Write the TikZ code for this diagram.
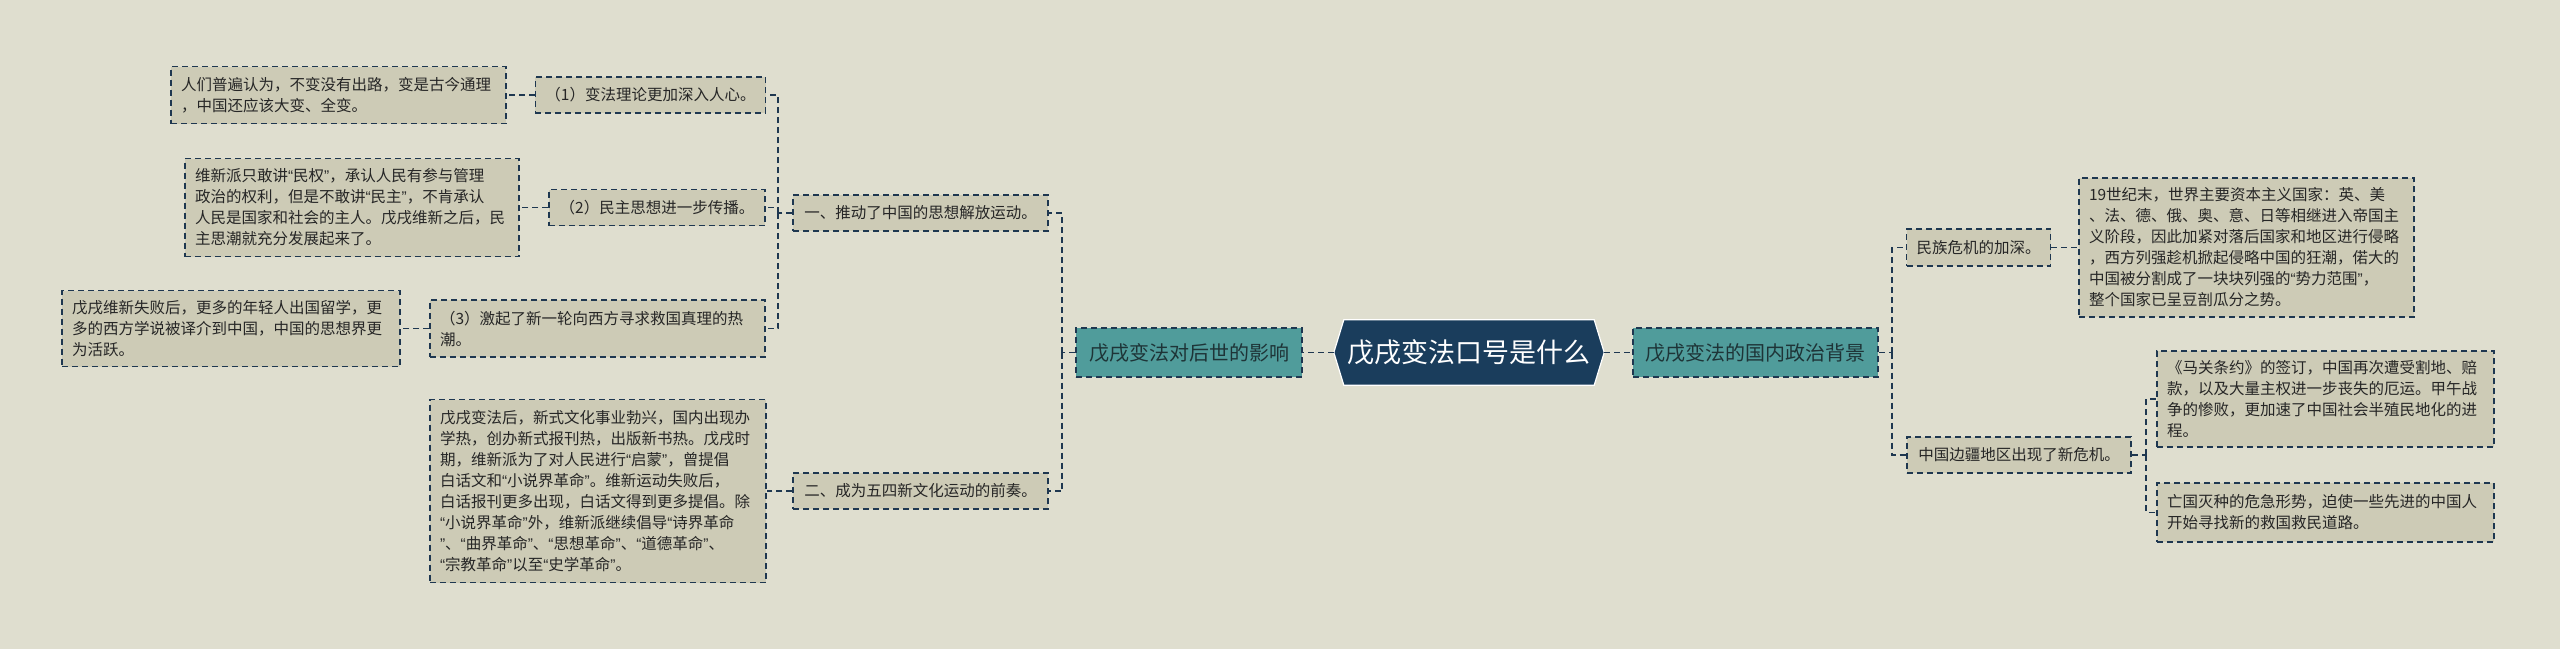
\documentclass[tikz,border=0pt]{standalone}
\usepackage{fontspec}
\setmainfont{Noto Sans CJK SC}
\newfontfamily\latinq{Liberation Sans}
\newcommand\qo{{\latinq “}}
\newcommand\qc{{\latinq ”}}
\usetikzlibrary{calc}
\pgfdeclarelayer{bg}
\pgfsetlayers{bg,main}
\definecolor{bgc}{RGB}{223,222,207}
\definecolor{leaf}{RGB}{205,203,182}
\definecolor{teal2}{RGB}{80,156,155}
\definecolor{navy}{RGB}{26,61,92}
\definecolor{linec}{RGB}{30,55,80}
\definecolor{txt}{RGB}{38,38,38}
\definecolor{tealtxt}{RGB}{30,52,55}
\begin{document}
\begin{tikzpicture}[x=1pt,y=-1pt,
  conn/.style={draw=linec, line width=1.6pt, dash pattern=on 6pt off 4pt},
  box/.style={draw=linec, line width=1.5pt, dash pattern=on 6pt off 4pt, fill=leaf, text=txt,
    font=\fontsize{15.5}{21}\selectfont, inner xsep=10pt, inner ysep=0pt, anchor=center},
  one/.style={box, minimum width=#1, minimum height=36pt},
  multi/.style={box, text width=#1, align=left},
  tealbox/.style={draw=linec, line width=1.5pt, dash pattern=on 6pt off 4pt, fill=teal2, text=tealtxt,
    font=\fontsize{20}{24}\selectfont, minimum height=49pt, inner xsep=6pt, anchor=center}
]
\useasboundingbox (0,0) rectangle (2560,649);
\begin{pgfonlayer}{bg}
\fill[bgc] (0,0) rectangle (2560,649);
\end{pgfonlayer}

% root
\node[minimum width=270pt, minimum height=65pt, text=white, font=\fontsize{27}{32}\selectfont] (root) at (1469,352.5) {戊戌变法口号是什么};
\begin{pgfonlayer}{bg}
\fill[navy, draw=white, line width=1.2pt] (root.west) -- ([xshift=10pt]root.north west) -- ([xshift=-10pt]root.north east) -- (root.east) -- ([xshift=-10pt]root.south east) -- ([xshift=10pt]root.south west) -- cycle;
\end{pgfonlayer}

% level 1
\node[tealbox, minimum width=226pt] (L1) at (1189,352.5) {戊戌变法对后世的影响};
\node[tealbox, minimum width=245pt] (R1) at (1755.5,352.5) {戊戌变法的国内政治背景};

% left level 2
\node[one=255pt] (N1) at (920.5,213) {一、推动了中国的思想解放运动。};
\node[one=255pt] (N2) at (920.5,491) {二、成为五四新文化运动的前奏。};

% left level 3
\node[one=229pt] (P1) at (650.5,95) {（1）变法理论更加深入人心。};
\node[one=216pt] (P2) at (657,207.5) {（2）民主思想进一步传播。};
\node[multi=315pt, minimum height=57pt] (P3) at (597.5,328.5) {（3）激起了新一轮向西方寻求救国真理的热\\潮。};

% left leaves
\node[multi=315pt, minimum height=57pt] (A) at (338.5,95) {人们普遍认为，不变没有出路，变是古今通理\\，中国还应该大变、全变。};
\node[multi=314pt, minimum height=98pt] (B) at (352,207.5) {维新派只敢讲\qo 民权\qc ，承认人民有参与管理\\政治的权利，但是不敢讲\qo 民主\qc ，不肯承认\\人民是国家和社会的主人。戊戌维新之后，民\\主思潮就充分发展起来了。};
\node[multi=318pt, minimum height=76pt] (C) at (231,328.5) {戊戌维新失败后，更多的年轻人出国留学，更\\多的西方学说被译介到中国，中国的思想界更\\为活跃。};
\node[multi=316pt, minimum height=183pt] (D) at (598,491) {戊戌变法后，新式文化事业勃兴，国内出现办\\学热，创办新式报刊热，出版新书热。戊戌时\\期，维新派为了对人民进行\qo 启蒙\qc ，曾提倡\\白话文和\qo 小说界革命\qc 。维新运动失败后，\\白话报刊更多出现，白话文得到更多提倡。除\\\qo 小说界革命\qc 外，维新派继续倡导\qo 诗界革命\\\qc 、\qo 曲界革命\qc 、\qo 思想革命\qc 、\qo 道德革命\qc 、\\\qo 宗教革命\qc 以至\qo 史学革命\qc 。};

% right level 2
\node[one=143pt, minimum height=37pt] (M1) at (1978.5,247.5) {民族危机的加深。};
\node[one=224pt] (M2) at (2019,455) {中国边疆地区出现了新危机。};

% right leaves
\node[multi=315pt, minimum height=139pt] (S1) at (2246.5,247.5) {19世纪末，世界主要资本主义国家：英、美\\、法、德、俄、奥、意、日等相继进入帝国主\\义阶段，因此加紧对落后国家和地区进行侵略\\，西方列强趁机掀起侵略中国的狂潮，偌大的\\中国被分割成了一块块列强的\qo 势力范围\qc ，\\整个国家已呈豆剖瓜分之势。};
\node[multi=317pt, minimum height=96pt] (S2) at (2325.5,399) {《马关条约》的签订，中国再次遭受割地、赔\\款，以及大量主权进一步丧失的厄运。甲午战\\争的惨败，更加速了中国社会半殖民地化的进\\程。};
\node[multi=317pt, minimum height=59pt] (S3) at (2325.5,512.5) {亡国灭种的危急形势，迫使一些先进的中国人\\开始寻找新的救国救民道路。};

% bus coordinates
\coordinate (b1) at (1062,352.5);
\coordinate (b2) at (778,213);
\coordinate (b3) at (1892,352.5);
\coordinate (b4) at (2146,455);

% connectors
\draw[conn] (root.west) -- (L1.east);
\draw[conn] (root.east) -- (R1.west);
\draw[conn] (L1.west) -- (b1);
\draw[conn] (b1) |- (N1.east);
\draw[conn] (b1) |- (N2.east);
\draw[conn] (N1.west) -- (b2);
\draw[conn] (b2) |- (P1.east);
\draw[conn] (b2) |- (P2.east);
\draw[conn] (b2) |- (P3.east);
\draw[conn] (P1.west) -- (A.east);
\draw[conn] (P2.west) -- (B.east);
\draw[conn] (P3.west) -- (C.east);
\draw[conn] (N2.west) -- (D.east);
\draw[conn] (R1.east) -- (b3);
\draw[conn] (b3) |- (M1.west);
\draw[conn] (b3) |- (M2.west);
\draw[conn] (M1.east) -- (S1.west);
\draw[conn] (M2.east) -- (b4);
\draw[conn] (b4) |- (S2.west);
\draw[conn] (b4) |- (S3.west);
\end{tikzpicture}
\end{document}
